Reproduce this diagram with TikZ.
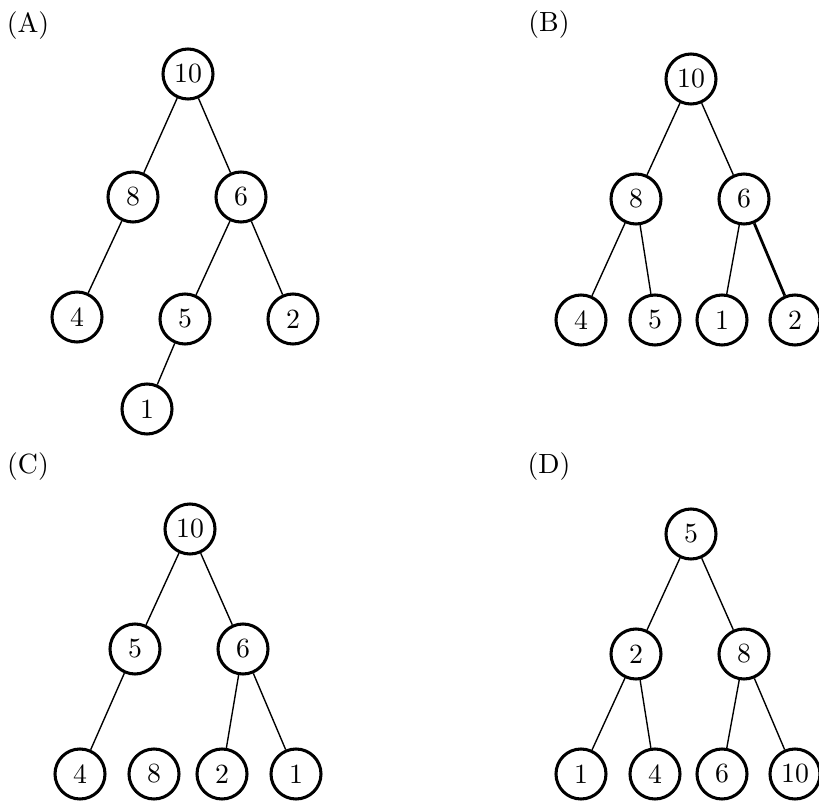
\documentclass[tikz,border=0pt]{standalone}

\tikzset{
	vertex/.style={circle, draw, line width=1.1pt, minimum size=18pt, inner sep=0pt},
	link/.style={line width=0.5pt},
	boldlink/.style={line width=1pt},
}

\begin{document}
\begin{tikzpicture}[x=0.36pt, y=-0.36pt]
	\useasboundingbox (0,0) rectangle (819,801);
	
	\node at (28,26) {(A)};
	\node[vertex] (a10) at (188,74) {10};
	\node[vertex] (a8) at (133,197) {8};
	\node[vertex] (a6) at (241,197) {6};
	\node[vertex] (a4) at (77,317) {4};
	\node[vertex] (a5) at (185,319) {5};
	\node[vertex] (a2) at (293,319) {2};
	\node[vertex] (a1) at (147,409) {1};
	\draw[link] (a10) -- (a8);
	\draw[link] (a10) -- (a6);
	\draw[link] (a8) -- (a4);
	\draw[link] (a6) -- (a5);
	\draw[link] (a6) -- (a2);
	\draw[link] (a5) -- (a1);
	
	\node at (549,25) {(B)};
	\node[vertex] (b10) at (691,79) {10};
	\node[vertex] (b8) at (636,199) {8};
	\node[vertex] (b6) at (744,199) {6};
	\node[vertex] (b4) at (581,320) {4};
	\node[vertex] (b5) at (655,320) {5};
	\node[vertex] (b1) at (722,320) {1};
	\node[vertex] (b2) at (795,320) {2};
	\draw[link] (b10) -- (b8);
	\draw[link] (b10) -- (b6);
	\draw[link] (b8) -- (b4);
	\draw[link] (b8) -- (b5);
	\draw[link] (b6) -- (b1);
	\draw[boldlink] (b6) -- (b2);
	
	\node at (28,467) {(C)};
	\node[vertex] (c10) at (190,529) {10};
	\node[vertex] (c5) at (135,649) {5};
	\node[vertex] (c6) at (243,649) {6};
	\node[vertex] (c4) at (80,774) {4};
	\node[vertex] (c8) at (154,774) {8};
	\node[vertex] (c2) at (222,774) {2};
	\node[vertex] (c1) at (296,774) {1};
	\draw[link] (c10) -- (c5);
	\draw[link] (c10) -- (c6);
	\draw[link] (c5) -- (c4);
	\draw[link] (c6) -- (c2);
	\draw[link] (c6) -- (c1);
	
	\node at (549,467) {(D)};
	\node[vertex] (d5) at (691,534) {5};
	\node[vertex] (d2) at (636,654) {2};
	\node[vertex] (d8) at (744,654) {8};
	\node[vertex] (d1) at (581,774) {1};
	\node[vertex] (d4) at (655,774) {4};
	\node[vertex] (d6) at (722,774) {6};
	\node[vertex] (d10) at (795,774) {10};
	\draw[link] (d5) -- (d2);
	\draw[link] (d5) -- (d8);
	\draw[link] (d2) -- (d1);
	\draw[link] (d2) -- (d4);
	\draw[link] (d8) -- (d6);
	\draw[link] (d8) -- (d10);
\end{tikzpicture}
\end{document}
